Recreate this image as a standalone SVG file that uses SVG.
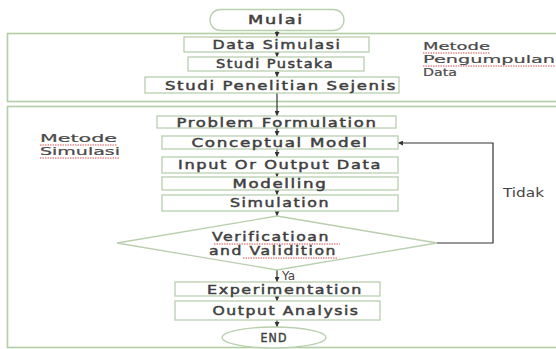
<svg xmlns="http://www.w3.org/2000/svg" width="556" height="349" viewBox="0 0 556 349">
<defs>
<marker id="ah" viewBox="0 0 6 6" refX="6" refY="3" markerWidth="5" markerHeight="5" orient="auto" markerUnits="userSpaceOnUse">
<path d="M0,0 L6,3 L0,6 Z" fill="#333"/>
</marker>
<style>
.bx{fill:#fff;stroke:#b9cfae;stroke-width:1.3}
.ob{fill:none;stroke:#b3cda4;stroke-width:1.6}
.t{font-family:"DejaVu Sans",Verdana,sans-serif;font-size:12px;letter-spacing:1.2px;fill:#3f3f3f;stroke:#3f3f3f;stroke-width:0.45;text-anchor:middle}
.l{font-family:"DejaVu Sans",Verdana,sans-serif;font-size:11px;fill:#4a4a4a;stroke:#4a4a4a;stroke-width:0.2}
.c{fill:none;stroke:#333;stroke-width:1.2}
.sq{fill:none;stroke:#d04040;stroke-width:0.9;stroke-dasharray:1.5 1}
</style>
</defs>
<rect width="556" height="349" fill="#fff"/>
<g id="group-pengumpulan">
<rect class="ob" x="7.5" y="33.5" width="560" height="68"/>
<text class="l" x="423" y="50" textLength="67" lengthAdjust="spacingAndGlyphs">Metode</text>
<text class="l" x="423" y="63" textLength="132" lengthAdjust="spacingAndGlyphs">Pengumpulan</text>
<text class="l" x="423" y="76" textLength="34" lengthAdjust="spacingAndGlyphs">Data</text>
<path class="sq" d="M423,53 H490 M423,66 H555"/>
</g>
<g id="group-simulasi">
<rect class="ob" x="7.5" y="106.5" width="560" height="241"/>
<text class="l" x="40" y="142" textLength="77" lengthAdjust="spacingAndGlyphs">Metode</text>
<text class="l" x="40" y="155" textLength="80" lengthAdjust="spacingAndGlyphs">Simulasi</text>
<path class="sq" d="M40,145 H117 M40,158 H120"/>
</g>
<g id="connectors">
<line class="c" x1="277" y1="30" x2="277" y2="37" marker-end="url(#ah)"/>
<line class="c" x1="277" y1="52" x2="277" y2="57" marker-end="url(#ah)"/>
<line class="c" x1="277" y1="71" x2="277" y2="77" marker-end="url(#ah)"/>
<line class="c" x1="277" y1="93" x2="277" y2="116" marker-end="url(#ah)"/>
<line class="c" x1="277" y1="128" x2="277" y2="136" marker-end="url(#ah)"/>
<line class="c" x1="277" y1="149" x2="277" y2="157" marker-end="url(#ah)"/>
<line class="c" x1="277" y1="173" x2="277" y2="177" marker-end="url(#ah)"/>
<line class="c" x1="277" y1="190" x2="277" y2="195" marker-end="url(#ah)"/>
<line class="c" x1="277" y1="211" x2="277" y2="216" marker-end="url(#ah)"/>
<polyline class="c" points="437,243 493,243 493,143 398,143" marker-end="url(#ah)"/>
<line class="c" x1="277" y1="270" x2="277" y2="282" marker-end="url(#ah)"/>
<line class="c" x1="277" y1="296" x2="277" y2="301" marker-end="url(#ah)"/>
<line class="c" x1="277" y1="320" x2="277" y2="327" marker-end="url(#ah)"/>
<text x="503" y="197" font-family="DejaVu Sans, Verdana, sans-serif" font-size="13" fill="#444" textLength="41" lengthAdjust="spacingAndGlyphs">Tidak</text>
<text x="282" y="280" font-family="DejaVu Sans, Verdana, sans-serif" font-size="12" fill="#444">Ya</text>
</g>
<g id="mulai">
<rect class="bx" x="210" y="9.5" width="134" height="21" rx="10.5"/>
<text class="t" x="276" y="24" textLength="56" lengthAdjust="spacingAndGlyphs">Mulai</text>
</g>
<g id="data-simulasi">
<rect class="bx" x="184" y="37" width="185" height="15"/>
<text class="t" x="277" y="48.5" textLength="129" lengthAdjust="spacingAndGlyphs">Data Simulasi</text>
</g>
<g id="studi-pustaka">
<rect class="bx" x="188" y="57" width="176" height="14"/>
<text class="t" x="275" y="68" textLength="118" lengthAdjust="spacingAndGlyphs">Studi Pustaka</text>
</g>
<g id="studi-penelitian">
<rect class="bx" x="145" y="77" width="254" height="16"/>
<text class="t" x="281" y="89.5" textLength="232" lengthAdjust="spacingAndGlyphs">Studi Penelitian Sejenis</text>
</g>
<g id="problem-formulation">
<rect class="bx" x="157" y="116" width="239" height="12"/>
<text class="t" x="277" y="126.5" textLength="201" lengthAdjust="spacingAndGlyphs">Problem Formulation</text>
</g>
<g id="conceptual-model">
<rect class="bx" x="162" y="136" width="236" height="13"/>
<text class="t" x="280" y="147" textLength="177" lengthAdjust="spacingAndGlyphs">Conceptual Model</text>
</g>
<g id="input-output">
<rect class="bx" x="162" y="157" width="236" height="16"/>
<text class="t" x="280" y="169" textLength="204" lengthAdjust="spacingAndGlyphs">Input Or Output Data</text>
</g>
<g id="modelling">
<rect class="bx" x="162" y="177" width="236" height="13"/>
<text class="t" x="280" y="188" textLength="95" lengthAdjust="spacingAndGlyphs">Modelling</text>
</g>
<g id="simulation">
<rect class="bx" x="162" y="195" width="236" height="16"/>
<text class="t" x="280" y="207" textLength="100" lengthAdjust="spacingAndGlyphs">Simulation</text>
</g>
<g id="verification">
<polygon class="bx" points="277,216 437,243 277,270 117,243"/>
<text class="t" x="271" y="241" font-size="12.5" textLength="118" lengthAdjust="spacingAndGlyphs">Verificatioan</text>
<text class="t" x="273" y="255" font-size="12.5" textLength="128" lengthAdjust="spacingAndGlyphs">and Validition</text>
<path class="sq" d="M214,244 H340 M243,258 H337"/>
</g>
<g id="experimentation">
<rect class="bx" x="175" y="282" width="205" height="14"/>
<text class="t" x="285" y="293.5" textLength="156" lengthAdjust="spacingAndGlyphs">Experimentation</text>
</g>
<g id="output-analysis">
<rect class="bx" x="175" y="301" width="205" height="19"/>
<text class="t" x="286" y="315" textLength="147" lengthAdjust="spacingAndGlyphs">Output Analysis</text>
</g>
<g id="end">
<ellipse class="bx" cx="274" cy="337.5" rx="52" ry="10.5"/>
<text class="t" x="274" y="342" textLength="27" lengthAdjust="spacingAndGlyphs">END</text>
</g>
</svg>
